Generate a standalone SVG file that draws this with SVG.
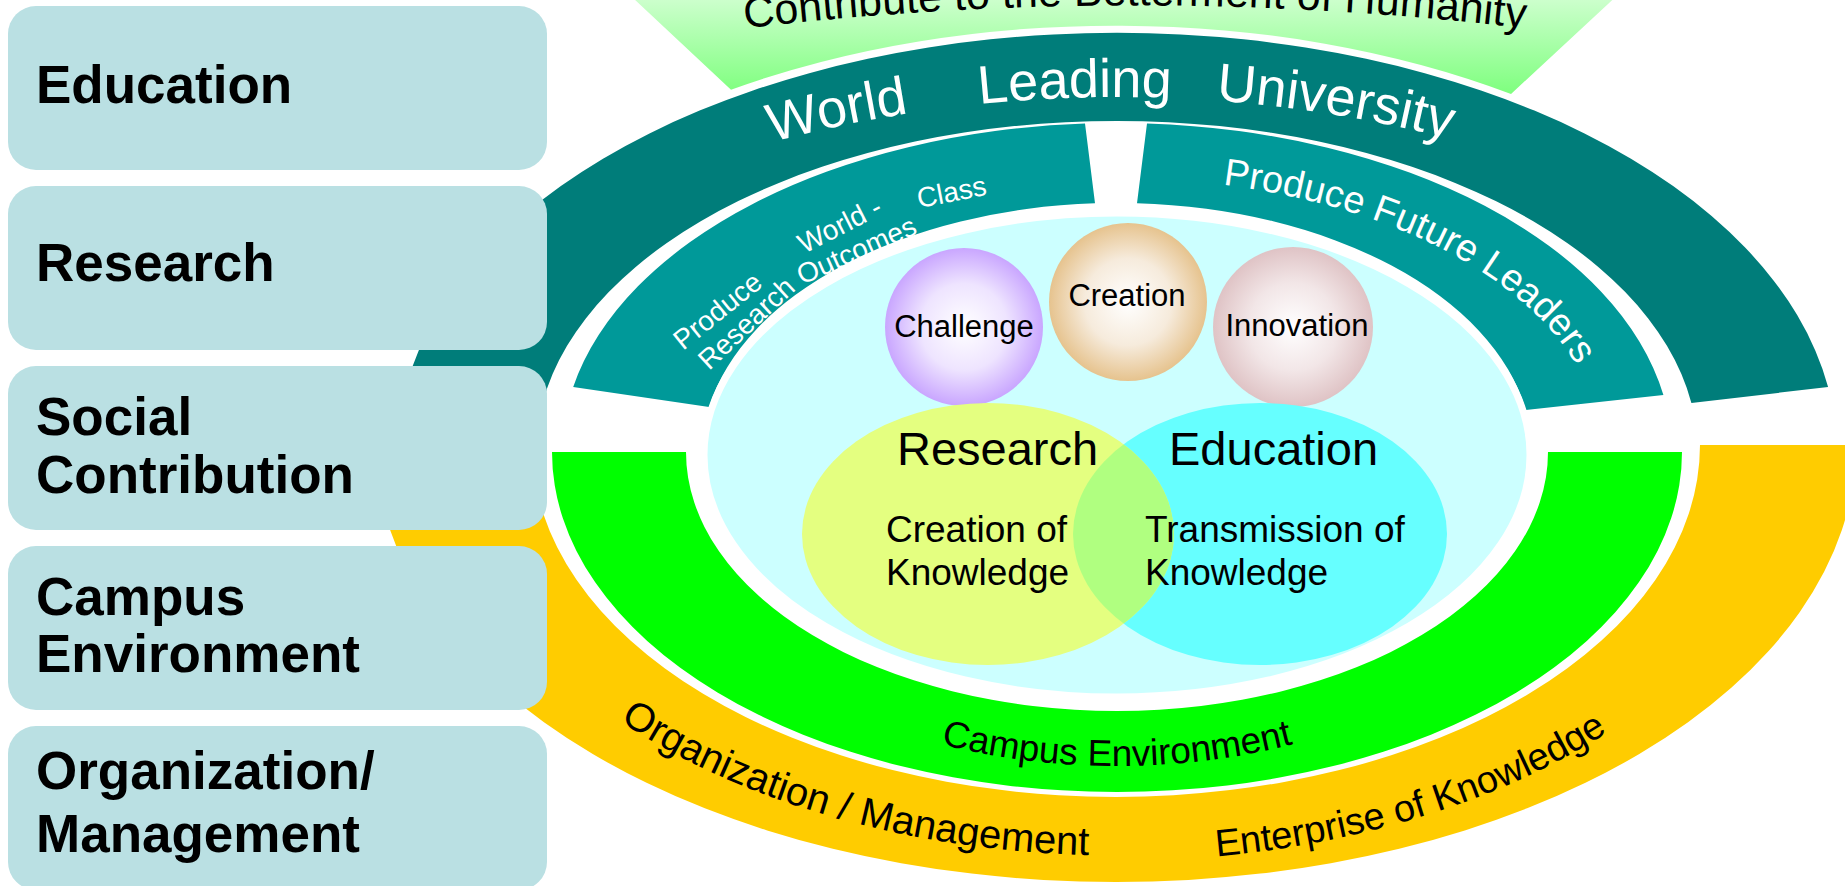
<svg xmlns="http://www.w3.org/2000/svg" width="1845" height="886" viewBox="0 0 1845 886">
<defs>
<linearGradient id="topGrad" gradientUnits="userSpaceOnUse" x1="0" y1="0" x2="0" y2="92">
<stop offset="0" stop-color="#CCFFCC"/><stop offset="1" stop-color="#80FF80"/>
</linearGradient>
<radialGradient id="gChallenge" cx="0.5" cy="0.5" r="0.5">
<stop offset="0" stop-color="#FFFFFF"/><stop offset="0.55" stop-color="#EEE4FF"/><stop offset="1" stop-color="#C9A6FF"/>
</radialGradient>
<radialGradient id="gCreation" cx="0.5" cy="0.5" r="0.5">
<stop offset="0" stop-color="#FFFFFF"/><stop offset="0.55" stop-color="#F6EBDC"/><stop offset="1" stop-color="#E6C38E"/>
</radialGradient>
<radialGradient id="gInnovation" cx="0.5" cy="0.5" r="0.5">
<stop offset="0" stop-color="#FFFFFF"/><stop offset="0.55" stop-color="#F2E6E7"/><stop offset="1" stop-color="#DFC3C5"/>
</radialGradient>
<clipPath id="clipEdu"><ellipse cx="1260" cy="534" rx="187" ry="131"/></clipPath>
<path id="pHumanity" d="M 635,43 A 3340 3340 0 0 1 1635,43"/>
<path id="pWorld" d="M 517,238.6 A 1342 1342 0 0 1 1717,238.6"/>
<path id="pLeaders" d="M 1117,178 A 485 275 0 0 1 1602,453"/>
<path id="pCampus" d="M 637,452 A 480 314 0 0 0 1597,452"/>
<path id="pOrg" d="M 620,721 A 670 410 0 0 0 1786,445"/>
<path id="pEnt" d="M 1216.5,856.4 A 680 416 0 0 0 1796,445"/>
</defs>
<style>
text{font-family:"Liberation Sans",Arial,sans-serif}
.box{fill:#BAE0E3}
.boxText{font-weight:bold;font-size:53px;fill:#000}
.wt{fill:#FFFFFF}
.bk{fill:#000000}
.dark{fill:#007D7A}
.mid{fill:#009999}
.bubble{font-size:31px;fill:#000;text-anchor:middle}
.venn{font-size:47px;fill:#000}
.venn2{font-size:37px;fill:#000}
</style>

<g id="humanity-banner">
<path d="M 571,-60 L 1677,-60 L 1511,94 A 730 428 0 0 0 731,89.7 Z" fill="url(#topGrad)"/>
<text class="bk" font-size="43"><textPath href="#pHumanity" startOffset="50%" text-anchor="middle">Contribute to the Betterment of Humanity</textPath></text>
</g>

<g id="world-leading-band">
<path class="dark" d="M 405.9,387 A 720 420 0 0 1 1828.1,387 L 1691.4,403 A 581 332 0 0 0 542.6,403 Z"/>
<text class="wt" font-size="54"><textPath href="#pWorld" startOffset="273">World</textPath></text>
<text class="wt" font-size="54"><textPath href="#pWorld" startOffset="484">Leading</textPath></text>
<text class="wt" font-size="54"><textPath href="#pWorld" startOffset="721">University</textPath></text>
</g>

<g id="organization-band">
<path fill="#FFCC00" d="M 376,445 L 532,445 A 584 352 0 0 0 1700,445 L 1856,445 A 740 437 0 0 1 376,445 Z"/>
<text class="bk" font-size="40"><textPath href="#pOrg">Organization / Management</textPath></text>
<text class="bk" font-size="38"><textPath href="#pEnt">Enterprise of Knowledge</textPath></text>
</g>

<g id="campus-band">
<path fill="#00FF00" d="M 552,452 L 686,452 A 431 259 0 0 0 1548,452 L 1682,452 A 565 340 0 0 1 552,452 Z"/>
<text class="bk" font-size="37"><textPath href="#pCampus" startOffset="50%" text-anchor="middle">Campus Environment</textPath></text>
</g>

<g id="research-outcomes-band">
<path class="mid" d="M 573.2,387 A 555 330 0 0 1 1085,123.55 L 1095,203.35 A 415 250 0 0 0 709.1,407 Z"/>
<g class="wt" font-size="28">
<text transform="translate(683,351) rotate(-39)">Produce</text>
<text transform="translate(804,254) rotate(-27)">World -</text>
<text transform="translate(919,208) rotate(-11)">Class</text>
<text transform="translate(709,371) rotate(-43)">Research</text>
<text transform="translate(802,285) rotate(-24)">Outcomes</text>
</g>
</g>

<g id="future-leaders-band">
<path class="mid" d="M 1147,123.5 A 555 330 0 0 1 1663.4,395 L 1525.8,410 A 415 250 0 0 0 1137,203.3 Z"/>
<text class="wt" font-size="38"><textPath href="#pLeaders" startOffset="106">Produce Future Leaders</textPath></text>
</g>

<g id="core">
<ellipse cx="1117" cy="455" rx="413" ry="242" fill="#CCFFFF" stroke="#FFFFFF" stroke-width="7"/>
</g>

<g id="challenge">
<circle cx="964" cy="327" r="79" fill="url(#gChallenge)"/>
<text class="bubble" x="964" y="337">Challenge</text>
</g>
<g id="creation">
<circle cx="1128" cy="302" r="79" fill="url(#gCreation)"/>
<text class="bubble" x="1127" y="306">Creation</text>
</g>
<g id="innovation">
<circle cx="1293" cy="327" r="80" fill="url(#gInnovation)"/>
<text class="bubble" x="1297" y="336">Innovation</text>
</g>

<g id="venn-education">
<ellipse cx="1260" cy="534" rx="187" ry="131" fill="#66FFFF"/>
</g>
<g id="venn-research">
<ellipse cx="988" cy="534" rx="186" ry="131" fill="#E4FF80"/>
<ellipse cx="988" cy="534" rx="186" ry="131" fill="#B0FF80" clip-path="url(#clipEdu)"/>
<text class="venn" x="897" y="465">Research</text>
<text class="venn2" x="886" y="542">Creation of</text>
<text class="venn2" x="886" y="585">Knowledge</text>
</g>
<g id="venn-education-text">
<text class="venn" x="1169" y="465">Education</text>
<text class="venn2" x="1145" y="542">Transmission of</text>
<text class="venn2" x="1145" y="585">Knowledge</text>
</g>

<g id="box-education">
<rect class="box" x="8" y="6" width="539" height="164" rx="28"/>
<text class="boxText" x="36" y="103">Education</text>
</g>
<g id="box-research">
<rect class="box" x="8" y="186" width="539" height="164" rx="28"/>
<text class="boxText" x="36" y="281">Research</text>
</g>
<g id="box-social">
<rect class="box" x="8" y="366" width="539" height="164" rx="28"/>
<text class="boxText" x="36" y="435">Social</text>
<text class="boxText" x="36" y="493">Contribution</text>
</g>
<g id="box-campus">
<rect class="box" x="8" y="546" width="539" height="164" rx="28"/>
<text class="boxText" x="36" y="615">Campus</text>
<text class="boxText" x="36" y="672">Environment</text>
</g>
<g id="box-organization">
<rect class="box" x="8" y="726" width="539" height="164" rx="28"/>
<text class="boxText" x="36" y="789">Organization/</text>
<text class="boxText" x="36" y="852">Management</text>
</g>
<g id="connectors"></g>
</svg>
